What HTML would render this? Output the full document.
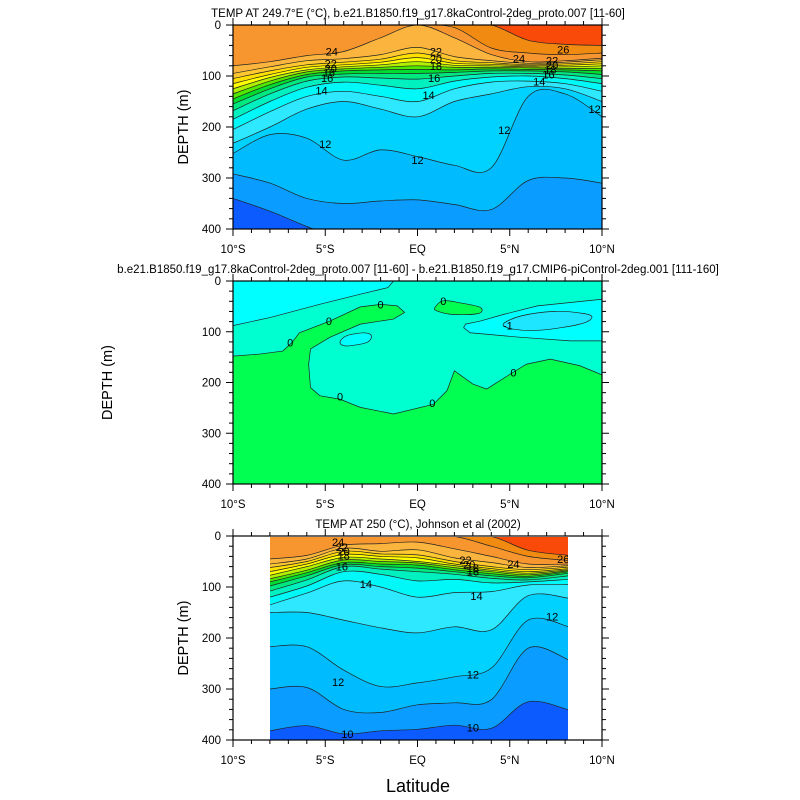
<!DOCTYPE html>
<html><head><meta charset="utf-8"><style>
body{margin:0;background:#fff}
svg{display:block;font-family:"Liberation Sans",sans-serif}
</style></head><body>
<svg id="chart" width="800" height="800" viewBox="0 0 800 800" xmlns="http://www.w3.org/2000/svg">
<defs>
<clipPath id="clipTop"><rect x="233" y="25" width="369" height="204"/></clipPath>
<clipPath id="clipMid"><rect x="233" y="281" width="369" height="203"/></clipPath>
<clipPath id="clipBot"><rect x="270" y="537" width="298" height="203"/></clipPath>
</defs>
</svg>
<script>
// ---------- data ----------
const levelColors = {9:'#0b5bff',10:'#0a9cff',11:'#00bcff',12:'#00d2ff',13:'#2de8ff',14:'#00f8f8',15:'#00f0c0',16:'#00e880',17:'#00dd30',18:'#50e800',19:'#b0f000',20:'#ffff00',21:'#ffe000',22:'#ffc830',23:'#fbb43e',24:'#f7962e',25:'#f08a10',26:'#fa4a0a'};
const topLats = [-10,-8,-6,-4,-2,0,2,4,6,8,10];
const topLevels = [10,11,12,13,14,15,16,17,18,19,20,21,22,23,24,25,26];
const topDepths = [
 [340,365,395,420,420,420,420,420,420,420,420],
 [292,310,340,350,345,343,352,362,305,300,310],
 [252,215,222,265,245,258,275,280,140,135,180],
 [232,200,165,150,165,180,150,135,121,125,150],
 [205,170,140,130,140,150,125,112,110,115,130],
 [185,150,122,112,118,125,110,102,100,105,115],
 [168,135,110,102,104,106,100,95,95,98,105],
 [155,125,102,96,95,95,93,90,90,92,97],
 [145,117,97,90,88,87,88,86,87,88,90],
 [135,110,92,86,83,80,83,83,84,85,85],
 [125,103,88,82,78,72,79,80,82,82,80],
 [115,97,83,78,73,64,75,77,80,79,76],
 [105,90,78,73,67,55,70,74,78,76,72],
 [95,82,70,66,58,44,62,70,75,73,68],
 [80,72,60,52,25,0,25,58,72,70,65],
 [0,0,0,0,0,0,5,45,55,58,55],
 [0,0,0,0,0,0,0,0,30,38,40]
];
const topLabelLat = [-4.65,-4.7,-4.7,-4.8,-4.9,-5.2,1.0,1.0,1.0,0.9,0.6,5.5,7.9,7.3,7.3,7.2,7.1,6.6,9.6,4.7,-5.0,0.0];
const topLabelDepth = [52,75,85,93,104,128,52,67,80,104,137,66,48,70,78,87,97,111,165,206,233,265];
const topLabelText = ['24','22','20','18','16','14','22','20','18','16','14','24','26','22','20','18','16','14','12','12','12','12'];

const botLats = [-8,-6,-4,-2,0,2,4,6,8.2];
const botLevels = [10,11,12,13,14,15,16,17,18,19,20,21,22,23,24,25,26];
const botDepths = [
 [382,372,388,382,379,371,377,325,341],
 [300,297,340,346,331,327,321,220,243],
 [217,217,263,295,288,276,259,165,178],
 [150,150,165,180,190,178,184,117,122],
 [135,112,88,100,120,111,109,96,95],
 [120,98,70,75,88,85,92,90,85],
 [108,86,60,65,70,75,83,86,78],
 [98,78,56,60,63,70,78,82,73],
 [90,72,52,55,57,66,74,79,70],
 [84,67,47,50,53,62,70,76,68],
 [77,60,42,45,50,58,67,73,66],
 [70,55,36,40,43,55,64,70,64],
 [62,50,30,35,37,50,60,66,61],
 [55,45,24,30,27,43,52,62,58],
 [45,38,18,15,12,25,40,55,55],
 [0,0,0,0,0,0,20,40,48],
 [0,0,0,0,0,0,0,28,38]
];
const botLabelLat = [-4.3,-4.1,-4.0,-4.0,-4.1,-2.8,2.6,2.8,3.0,3.0,3.2,5.2,7.9,-4.3,3.0,7.3,-3.8,3.0];
const botLabelDepth = [12,22,30,38,60,94,47,56,63,70,118,55,45,286,272,158,388,375];
const botLabelText = ['24','22','20','18','16','14','22','20','18','16','14','24','26','12','12','12','10','10'];

// middle panel (difference) regions as lat/depth outlines
const midGreenLat = [-10,-8.55,-7.3,-6.8,-6.4,-4.75,-3.1,-2.0,-1.1,-0.7,-1.3,-3.1,-4.75,-5.8,-5.9,-5.8,-5.3,-4.2,-3.1,-1.3,0.86,1.6,2.0,3.0,3.75,5.0,5.9,7.2,8.8,10,10,-10];
const midGreenDepth = [148,144,138,121,102,79,51,46,49,62,75,85,111,134,164,210,226,233,249,262,243,216,177,203,213,184,164,154,167,185,400,400];
const midCyanLat = [-10,-1.3,-1.6,-3.1,-5.3,-8,-10];
const midCyanDepth = [0,0,13,26,46,72,88];
const midBlobLat = [-4.2,-3.85,-2.9,-2.5,-2.75,-3.85];
const midBlobDepth = [121,108,102,108,121,128];
const midPatchLat = [0.95,1.4,2.3,3.4,3.3,1.95,1.05];
const midPatchDepth = [52,39,43,52,64,66,59];
const midRightLat = [2.6,3.4,4.65,6.5,10,10,8.3,5.6,2.85,2.5];
const midRightDepth = [85,79,66,49,36,118,118,111,102,92];
const midNegLat = [4.65,5.6,7.4,9.0,9.45,8.8,6.65,5.2];
const midNegDepth = [85,69,60,64,72,85,97,95];
const midLabelLat = [-2.0,-4.8,-6.9,1.4,-4.2,0.8,5.2,4.9];
const midLabelDepth = [46,79,121,39,228,240,180,88];
const midLabelText = ['0','0','0','0','0','0','0','-1'];

const xTickVals = [-10,-5,0,5,10];
const xTickLabels = ['10°S','5°S','EQ','5°N','10°N'];
const yTickVals = [0,100,200,300,400];

// ---------- drawing ----------
const NS='http://www.w3.org/2000/svg';
const svg=document.getElementById('chart');
const X0=233, XW=369;
function xs(lat){return X0+(lat+10)/20*XW;}
function mk(tag,attrs,parent){const e=document.createElementNS(NS,tag);for(const k in attrs)e.setAttribute(k,attrs[k]);(parent||svg).appendChild(e);return e;}
function ysF(top,h){return d=>top+d/400*h;}
// catmull-rom smooth path through points (open), returns segment string starting with first point
function smooth(p){
  let s='';
  for(let i=0;i<p.length-1;i++){
    const p0=p[Math.max(i-1,0)],p1=p[i],p2=p[i+1],p3=p[Math.min(i+2,p.length-1)];
    const c1=[p1[0]+(p2[0]-p0[0])/6,p1[1]+(p2[1]-p0[1])/6];
    const c2=[p2[0]-(p3[0]-p1[0])/6,p2[1]-(p3[1]-p1[1])/6];
    s+=' C'+c1[0].toFixed(1)+','+c1[1].toFixed(1)+' '+c2[0].toFixed(1)+','+c2[1].toFixed(1)+' '+p2[0].toFixed(1)+','+p2[1].toFixed(1);
  }
  return s;
}
function smoothClosed(p){
  const n=p.length;let s='M'+p[0][0]+','+p[0][1];
  for(let i=0;i<n;i++){
    const p0=p[(i-1+n)%n],p1=p[i],p2=p[(i+1)%n],p3=p[(i+2)%n];
    const c1=[p1[0]+(p2[0]-p0[0])/6,p1[1]+(p2[1]-p0[1])/6];
    const c2=[p2[0]-(p3[0]-p1[0])/6,p2[1]-(p3[1]-p1[1])/6];
    s+=' C'+c1[0].toFixed(1)+','+c1[1].toFixed(1)+' '+c2[0].toFixed(1)+','+c2[1].toFixed(1)+' '+p2[0].toFixed(1)+','+p2[1].toFixed(1);
  }
  return s+'Z';
}

function drawField(top,h,lats,levels,depths,clip,name,yTop){
  const ys=ysF(top,h);
  const g=mk('g',{'clip-path':'url(#'+clip+')'});
  
  
  const x1=xs(lats[0]),x2=xs(lats[lats.length-1]);
  const base=mk('rect',{x:x1,y:ys(yTop),width:x2-x1,height:ys(400)-ys(yTop),fill:levelColors[levels[0]-1]},g);
  
  
  const curves=levels.map((lv,i)=>lats.map((la,j)=>[xs(la),ys(Math.max(depths[i][j],yTop-1))]));
  levels.forEach((lv,i)=>{
    const p=curves[i];
    const d='M'+x1+','+(ys(yTop)-2)+' L'+p[0][0]+','+p[0][1]+smooth(p)+' L'+x2+','+(ys(yTop)-2)+'Z';
    const poly=mk('path',{d:d,fill:levelColors[lv],stroke:'none'},g);
    
    
  });
  levels.forEach((lv,i)=>{
    const p=curves[i];
    const ln=mk('path',{d:'M'+p[0][0]+','+p[0][1]+smooth(p),fill:'none',stroke:'#222',"stroke-width":0.7},g);
    
    
  });
  return g;
}
function drawLabels(top,h,la,de,tx,g,name){
  const ys=ysF(top,h);
  la.forEach((v,i)=>{
    if(!tx[i])return;
    const t=mk('text',{x:xs(v),y:ys(de[i])+4,'font-size':11,'text-anchor':'middle',fill:'#000'},g);
    t.textContent=tx[i];
    
    
  });
}
function drawAxes(top,h,name,title,ytitleX){
  const ys=ysF(top,h);
  const f=mk('rect',{x:X0,y:top,width:XW,height:h,fill:'none',stroke:'#000','stroke-width':1.2});
  
  
  for(let l=-10;l<=10;l++){
    const len=(l%5===0)?7:4,x=xs(l);
    mk('line',{x1:x,y1:top,x2:x,y2:top-len,stroke:'#000','stroke-width':1});
    mk('line',{x1:x,y1:top+h,x2:x,y2:top+h+len,stroke:'#000','stroke-width':1});
  }
  for(let d=0;d<=400;d+=20){
    const len=(d%100===0)?7:4,y=ys(d);
    mk('line',{x1:X0,y1:y,x2:X0-len,y2:y,stroke:'#000','stroke-width':1});
    mk('line',{x1:X0+XW,y1:y,x2:X0+XW+len,y2:y,stroke:'#000','stroke-width':1});
  }
  xTickVals.forEach((v,i)=>{
    const t=mk('text',{x:xs(v),y:top+h+24,'font-size':11.5,'text-anchor':'middle'});
    t.textContent=xTickLabels[i];
    
    
  });
  yTickVals.forEach(v=>{
    const t=mk('text',{x:221,y:ys(v)+4,'font-size':11.5,'text-anchor':'end'});
    t.textContent=String(v);
    
    
  });
  const tt=mk('text',{x:418,y:top-8,'font-size':11.5,'text-anchor':'middle'});
  tt.textContent=title;
  
  
  const yt=mk('text',{x:ytitleX,y:top+h/2,'font-size':14.5,'text-anchor':'middle',transform:'rotate(-90 '+ytitleX+' '+(top+h/2)+')'});
  yt.textContent='DEPTH (m)';
  
  
}

// top panel
const gTop=drawField(25,204,topLats,topLevels,topDepths,'clipTop','top-panel',0);
drawLabels(25,204,topLabelLat,topLabelDepth,topLabelText,gTop,'top-panel');
drawAxes(25,204,'top-panel','TEMP AT 249.7°E (°C), b.e21.B1850.f19_g17.8kaControl-2deg_proto.007 [11-60]',188);

// middle panel
(function(){
  const top=281,h=203,ys=ysF(top,h);
  const g=mk('g',{'clip-path':'url(#clipMid)'});
  
  
  const bg=mk('rect',{x:X0,y:top,width:XW,height:h,fill:'#00ffd0'},g);
  
  
  function region(la,de,fill,nm,sm){
    const pts=la.map((v,i)=>[xs(v),ys(de[i])]);
    const d=sm?smoothClosed(pts):'M'+pts.map(p=>p[0]+','+p[1]).join(' L')+'Z';
    const p=mk('path',{d:d,fill:fill,stroke:'#222','stroke-width':0.7},g);
    
    
  }
  region(midGreenLat,midGreenDepth,'#00ff50','middle-panel-positive-region',false);
  region(midCyanLat,midCyanDepth,'#00ffff','middle-panel-negative-region-west',false);
  region(midBlobLat,midBlobDepth,'#00ffff','middle-panel-negative-blob',true);
  region(midPatchLat,midPatchDepth,'#00ff50','middle-panel-positive-patch',true);
  region(midRightLat,midRightDepth,'#00ffff','middle-panel-negative-region-east',false);
  region(midNegLat,midNegDepth,'#1ee6ff','middle-panel-below-minus-one',true);
  drawLabels(top,h,midLabelLat,midLabelDepth,midLabelText,g,'middle-panel');
  drawAxes(top,h,'middle-panel','b.e21.B1850.f19_g17.8kaControl-2deg_proto.007 [11-60] - b.e21.B1850.f19_g17.CMIP6-piControl-2deg.001 [111-160]',112);
})();

// bottom panel
const gBot=drawField(536,204,botLats,botLevels,botDepths,'clipBot','bottom-panel',2);
drawLabels(536,204,botLabelLat,botLabelDepth,botLabelText,gBot,'bottom-panel');
drawAxes(536,204,'bottom-panel','TEMP AT 250 (°C), Johnson et al (2002)',188);

const xl=mk('text',{x:418,y:792,'font-size':18,'text-anchor':'middle'});
xl.textContent='Latitude';


</script>
</body></html>
